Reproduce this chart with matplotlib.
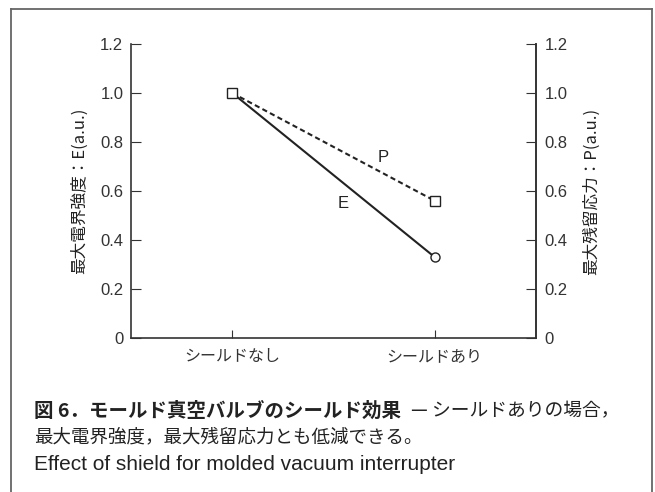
import matplotlib
matplotlib.use("Agg")
import matplotlib.pyplot as plt
from matplotlib.lines import Line2D

plt.rcParams['font.family'] = ['Noto Sans CJK JP', 'DejaVu Sans']

categories = ["シールドなし", "シールドあり"]
e_values = [1.0, 0.33]
p_values = [1.0, 0.56]
y_ticks = [0, 0.2, 0.4, 0.6, 0.8, 1.0, 1.2]
y_ticklabels = ["0", "0.2", "0.4", "0.6", "0.8", "1.0", "1.2"]

ink = "#222222"
W, H = 655, 492
fig = plt.figure(figsize=(W / 100, H / 100), dpi=100)

# outer frame (open at the bottom)
fx0, fx1, fy = 11 / W, 652 / W, 1 - 9 / H
for xs, ys in [([fx0, fx0], [0, fy]), ([fx0, fx1], [fy, fy]), ([fx1, fx1], [fy, 0])]:
    fig.add_artist(Line2D(xs, ys, transform=fig.transFigure, color="#666666", lw=1.3))

ax = fig.add_axes([131 / W, 1 - 338 / H, (536 - 131) / W, (338 - 44) / H])
x = list(range(len(categories)))

ax.plot(x, e_values, color=ink, lw=1.5, marker="o", markevery=[1],
        markersize=6.5, markerfacecolor="white", markeredgecolor=ink, markeredgewidth=1.0, zorder=3)
ax.plot(x, p_values, color=ink, lw=1.5, ls=(0, (2.5, 1.6)), marker="s",
        markersize=6.5, markerfacecolor="white", markeredgecolor=ink, markeredgewidth=1.0, zorder=4)

ax.text(0.547, 0.551, "E", fontsize=12, color=ink, ha="center", va="center", family="Liberation Sans")
ax.text(0.744, 0.735, "P", fontsize=12, color=ink, ha="center", va="center", family="Liberation Sans")

ax.set_xlim(-0.5, 1.5)
ax.set_ylim(0, 1.2)
ax.set_xticks(x)
ax.set_xticklabels(categories, fontsize=11.5, color=ink)
ax.set_yticks(y_ticks)
ax.set_yticklabels(y_ticklabels, fontsize=12, color=ink, family="Liberation Sans")
ax.spines["top"].set_visible(False)
for s in ["left", "right", "bottom"]:
    ax.spines[s].set_linewidth(1.2)
    ax.spines[s].set_color("#333333")
ax.tick_params(axis="y", direction="in", length=7, width=0.8, pad=5.5, colors="#333333")
ax.tick_params(axis="x", direction="in", length=6, width=0.8, pad=7.5, colors="#333333")
ax.set_ylabel("最大電界強度：E(a.u.)", fontsize=12, color=ink, labelpad=9)

ax2 = ax.twinx()
ax2.set_ylim(0, 1.2)
ax2.set_yticks(y_ticks)
ax2.set_yticklabels(y_ticklabels, fontsize=12, color=ink, family="Liberation Sans")
for s in ["top", "left", "bottom"]:
    ax2.spines[s].set_visible(False)
ax2.spines["right"].set_linewidth(1.2)
ax2.spines["right"].set_color("#333333")
ax2.tick_params(axis="y", direction="in", length=7, width=0.8, pad=6, colors="#333333")
ax2.set_ylabel("最大残留応力：P(a.u.)", fontsize=12, color=ink, labelpad=11)

# caption
cx = 34 / W
t1 = fig.text(cx, 1 - 411 / H, "図 6．モールド真空バルブのシールド効果", fontsize=14,
              fontweight="bold", color=ink, va="center", ha="left")
fig.canvas.draw()
bb = t1.get_window_extent()
fig.text(bb.x1 / W + 10 / W, 1 - 411 / H, "— シールドありの場合，", fontsize=13.5,
         color=ink, va="center", ha="left")
fig.text(cx, 1 - 437 / H, "最大電界強度，最大残留応力とも低減できる。", fontsize=13.3,
         color=ink, va="center", ha="left")
fig.text(cx, 1 - 465 / H, "Effect of shield for molded vacuum interrupter", fontsize=15,
         color=ink, va="center", ha="left", family="Liberation Sans")

fig.savefig("out.png", dpi=100)
